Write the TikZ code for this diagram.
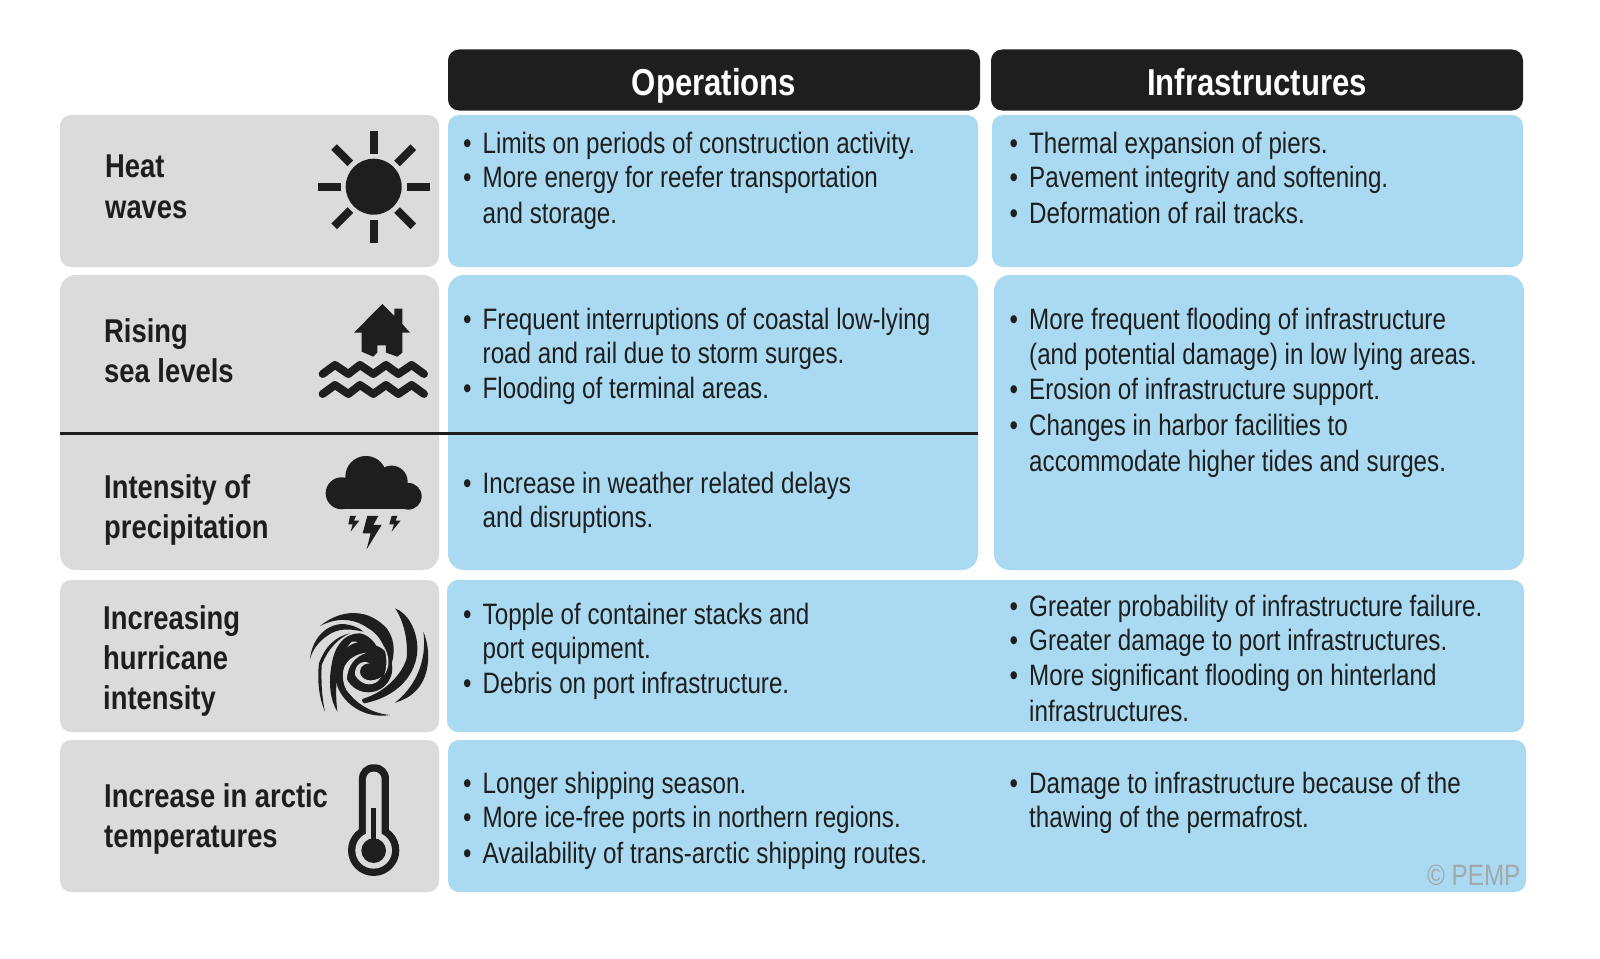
\documentclass[tikz,border=0pt]{standalone}
\usepackage{fontspec}
\setmainfont[FakeStretch=0.82,BoldFeatures={FakeStretch=0.83}]{Liberation Sans}
\definecolor{ink}{HTML}{1E1E1E}
\definecolor{greycell}{HTML}{DBDBDB}
\definecolor{bluecell}{HTML}{A9DAF2}
\definecolor{markgrey}{HTML}{A3A8AC}
\newcommand{\bul}{\llap{\textbullet\hspace{11pt}}}
\tikzset{
    cell/.style={inner sep=0,outer sep=0,rounded corners=11pt},
    grey/.style={cell,fill=greycell,minimum width=379pt},
    blue/.style={cell,fill=bluecell},
    head/.style={cell,fill=ink,text=white,font=\fontsize{37.5}{40}\selectfont\bfseries,minimum width=532pt,text height=40pt,text depth=10pt,minimum height=61pt},
    txt/.style={anchor=base west,inner sep=0,text=ink,font=\fontsize{29.5}{34}\selectfont},
    lab/.style={anchor=base west,inner sep=0,text=ink,font=\fontsize{33}{38}\selectfont\bfseries},
    ray/.style={draw=ink,line width=8pt},
    wave/.style={draw=ink,line width=8pt,line cap=round,line join=round}
}
\begin{document}
\begin{tikzpicture}[x=1pt,y=-1pt]
\useasboundingbox (0,0) rectangle (1600,958);

\node[head] (h1) at (714,80) {Operations};
\node[head] (h2) at (1257,80) {Infrastructures};

\node[grey,minimum height=152pt] (g1) at (249.5,191) {};
\node[grey,minimum height=295pt,rounded corners=16pt] (g2) at (249.5,422.5) {};
\node[grey,minimum height=152pt] (g3) at (249.5,656) {};
\node[grey,minimum height=152pt] (g4) at (249.5,816) {};

\node[blue,minimum width=530pt,minimum height=152pt] (o1) at (713,191) {};
\node[blue,minimum width=531pt,minimum height=152pt] (i1) at (1257.5,191) {};
\node[blue,minimum width=530pt,minimum height=295pt,rounded corners=16pt] (o2) at (713,422.5) {};
\node[blue,minimum width=530pt,minimum height=295pt,rounded corners=16pt] (i2) at (1259,422.5) {};
\node[blue,minimum width=1077pt,minimum height=152pt] (b3) at (985.5,656) {};
\node[blue,minimum width=1078pt,minimum height=152pt] (b4) at (987,816) {};

\coordinate (d1) at (60,433.5);
\coordinate (d2) at (978,433.5);
\draw[ink,line width=3pt] (d1) -- (d2);

% left column
\node[lab] (l1a) at (105,177.7) {Heat};
\node[lab] (l1b) at (105,218) {waves};
\node[lab] (l2a) at (104,342) {Rising};
\node[lab] (l2b) at (104,382) {sea levels};
\node[lab] (l3a) at (104,498) {Intensity of};
\node[lab] (l3b) at (104,538) {precipitation};
\node[lab] (l4a) at (103,629.6) {Increasing};
\node[lab] (l4b) at (103,669.5) {hurricane};
\node[lab] (l4c) at (103,709) {intensity};
\node[lab] (l5a) at (104,807) {Increase in arctic};
\node[lab] (l5b) at (104,847) {temperatures};

% operations
\node[txt] (o1a) at (482.5,153.5) {\bul Limits on periods of construction activity.};
\node[txt] (o1b) at (482.5,187.5) {\bul More energy for reefer transportation};
\node[txt] (o1c) at (482.5,223.5) {and storage.};
\node[txt] (o2a) at (482.5,329) {\bul Frequent interruptions of coastal low-lying};
\node[txt] (o2b) at (482.5,363) {road and rail due to storm surges.};
\node[txt] (o2c) at (482.5,398.5) {\bul Flooding of terminal areas.};
\node[txt] (o3a) at (482.5,493.5) {\bul Increase in weather related delays};
\node[txt] (o3b) at (482.5,527) {and disruptions.};
\node[txt] (o4a) at (482.5,624) {\bul Topple of container stacks and};
\node[txt] (o4b) at (482.5,658) {port equipment.};
\node[txt] (o4c) at (482.5,693.5) {\bul Debris on port infrastructure.};
\node[txt] (o5a) at (482.5,793.5) {\bul Longer shipping season.};
\node[txt] (o5b) at (482.5,827) {\bul More ice-free ports in northern regions.};
\node[txt] (o5c) at (482.5,863) {\bul Availability of trans-arctic shipping routes.};

% infrastructures
\node[txt] (i1a) at (1029,153.5) {\bul Thermal expansion of piers.};
\node[txt] (i1b) at (1029,187.5) {\bul Pavement integrity and softening.};
\node[txt] (i1c) at (1029,223.5) {\bul Deformation of rail tracks.};
\node[txt] (i2a) at (1029,329) {\bul More frequent flooding of infrastructure};
\node[txt] (i2b) at (1029,364) {(and potential damage) in low lying areas.};
\node[txt] (i2c) at (1029,399.5) {\bul Erosion of infrastructure support.};
\node[txt] (i2d) at (1029,435.5) {\bul Changes in harbor facilities to};
\node[txt] (i2e) at (1029,471) {accommodate higher tides and surges.};
\node[txt] (i4a) at (1029,616) {\bul Greater probability of infrastructure failure.};
\node[txt] (i4b) at (1029,650) {\bul Greater damage to port infrastructures.};
\node[txt] (i4c) at (1029,685.5) {\bul More significant flooding on hinterland};
\node[txt] (i4d) at (1029,721) {infrastructures.};
\node[txt] (i5a) at (1029,793.5) {\bul Damage to infrastructure because of the};
\node[txt] (i5b) at (1029,827) {thawing of the permafrost.};

\node[txt,text=markgrey,font=\fontsize{29.5}{32}\selectfont] (mark) at (1427,885) {\textcopyright{} PEMP};

% sun
\begin{scope}[shift={(373.7,186.7)}]
\fill[ink] (0,0) circle (28);
\foreach \a in {0,45,...,315}
    \draw[ray] (\a:33) -- (\a:56);
\end{scope}

% house and waves
\begin{scope}[shift={(280,110)},x=0.3333pt,y=-0.3333pt]
\fill[ink] (307,582) -- (343,618) -- (343,596) -- (367,596) -- (367,642) -- (390,668) -- (367,668) -- (367,728)
    -- (352,740) -- (318,728) -- (318,706) -- (292,706) -- (292,728) -- (280,740) -- (245,725) -- (245,668) -- (222,668) -- cycle;
\draw[wave] (128,792) -- (165,765) -- (205,792) -- (240,765) -- (280,792) -- (318,765) -- (355,792) -- (395,765) -- (432,792);
\draw[wave] (128,852) -- (165,825) -- (205,852) -- (240,825) -- (280,852) -- (318,825) -- (355,852) -- (395,825) -- (432,852);
\end{scope}

% cloud and bolts
\begin{scope}[shift={(280,110)},x=0.3333pt,y=-0.3333pt]
\fill[ink] (185,1150) circle (48);
\fill[ink] (258,1100) circle (62);
\fill[ink] (335,1115) circle (48);
\fill[ink] (385,1159) circle (40);
\fill[ink] (185,1198) -- (185,1130) -- (385,1130) -- (385,1198) -- cycle;
\fill[ink] (262,1218) -- (295,1218) -- (280,1245) -- (305,1245) -- (260,1318) -- (272,1270) -- (248,1270) -- cycle;
\fill[ink] (210,1218) -- (228,1218) -- (222,1232) -- (238,1232) -- (212,1265) -- (218,1243) -- (205,1243) -- cycle;
\fill[ink] (335,1218) -- (352,1218) -- (347,1232) -- (362,1232) -- (335,1265) -- (342,1243) -- (328,1243) -- cycle;
\end{scope}

% hurricane
\begin{scope}[shift={(305,600)},x=0.3333pt,y=-0.3333pt]
\fill[ink] (45,78) .. controls (110,25) and (190,25) .. (245,85) .. controls (275,125) and (270,175) .. (250,215)
    .. controls (250,165) and (235,110) .. (190,85) .. controls (140,50) and (90,55) .. (45,78) -- cycle;
\fill[ink] (15,178) .. controls (20,120) and (60,72) .. (115,72) .. controls (145,75) and (165,85) .. (175,95)
    .. controls (130,85) and (100,85) .. (70,105) .. controls (40,125) and (22,150) .. (15,178) -- cycle;
\fill[ink] (255,345) .. controls (180,358) and (105,310) .. (92,240) .. controls (85,180) and (120,125) .. (175,125)
    .. controls (215,135) and (240,170) .. (228,212) .. controls (215,175) and (190,150) .. (155,155)
    .. controls (125,165) and (112,200) .. (115,240) .. controls (125,295) and (190,340) .. (255,345) -- cycle;
\fill[ink] (97,335) .. controls (70,290) and (70,230) .. (85,170) .. controls (100,120) and (130,100) .. (165,100)
    .. controls (200,105) and (235,150) .. (228,212) .. controls (215,150) and (170,120) .. (140,125)
    .. controls (105,160) and (85,230) .. (97,335) -- cycle;
\fill[ink] (42,190) .. controls (60,140) and (90,110) .. (135,100) .. controls (100,115) and (70,145) .. (50,195)
    .. controls (48,240) and (50,290) .. (60,335) .. controls (45,300) and (35,250) .. (42,190) -- cycle;
\fill[ink] (190,205) circle (72);
\fill[greycell] (115,240) .. controls (108,200) and (130,165) .. (185,158) .. controls (150,170) and (128,195) .. (125,240)
    .. controls (130,270) and (145,285) .. (165,300) .. controls (135,290) and (118,270) .. (115,240) -- cycle;
\fill[greycell] (235,135) .. controls (255,170) and (255,200) .. (238,225) .. controls (248,195) and (245,165) .. (235,135) -- cycle;
\fill[greycell] (228,232) .. controls (210,262) and (170,260) .. (150,225) .. controls (148,195) and (170,178) .. (195,190)
    .. controls (172,190) and (160,205) .. (167,225) .. controls (178,245) and (205,245) .. (228,232) -- cycle;
\fill[ink] (270,25) .. controls (310,40) and (335,90) .. (337,140) .. controls (340,200) and (300,285) .. (178,310)
    .. controls (168,305) and (170,295) .. (178,295) .. controls (240,275) and (290,225) .. (305,175)
    .. controls (310,120) and (295,60) .. (270,25) -- cycle;
\fill[ink] (355,95) .. controls (378,150) and (376,225) .. (335,270) .. controls (315,292) and (290,302) .. (270,308)
    .. controls (325,265) and (368,190) .. (355,95) -- cycle;
\end{scope}

% thermometer
\begin{scope}[shift={(280,580)},x=0.3333pt,y=-0.3333pt]
\fill[ink,rounded corners=14pt] (237,800) -- (237,553) -- (327,553) -- (327,800) -- cycle;
\fill[ink] (281,811) circle (77);
\fill[greycell,rounded corners=7.5pt] (258,800) -- (258,575) -- (305,575) -- (305,800) -- cycle;
\fill[greycell] (281,811) circle (55);
\fill[ink] (273,685) rectangle (289,800);
\fill[ink] (281,812) circle (37);
\end{scope}
\end{tikzpicture}
\end{document}
